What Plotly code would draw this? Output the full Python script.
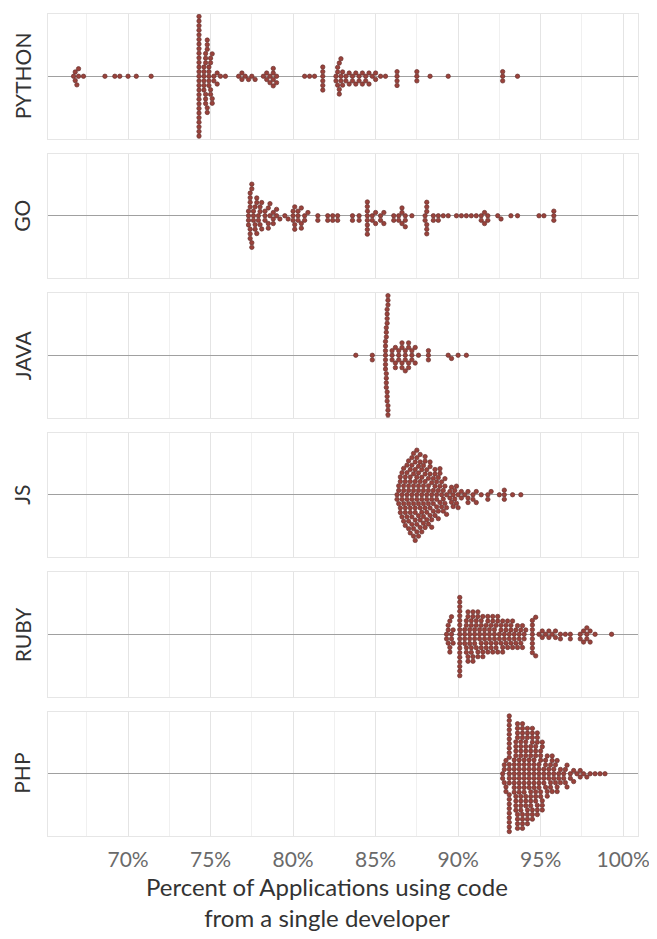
import math
import plotly.graph_objects as go
from plotly.subplots import make_subplots

# ---------------- data (percent value, number of applications at that value) ----------------
languages = ["PYTHON", "GO", "JAVA", "JS", "RUBY", "PHP"]

python_vals = [66.7, 66.8, 66.9, 67.0, 67.3, 68.6, 69.2, 69.5, 70.0, 70.5, 71.4,
               74.3,
               74.6, 74.7, 74.8, 74.9, 75.0, 75.1, 75.2, 75.4, 75.6, 75.9,
               76.7, 76.9, 77.1, 77.3, 77.5, 77.7,
               78.2, 78.4, 78.6, 78.8, 79.0,
               80.7, 81.0, 81.3, 81.8,
               82.6, 82.7, 82.8, 82.9, 83.0, 83.2, 83.4,
               83.6, 83.8, 84.0, 84.2, 84.4, 84.6, 84.8, 85.0, 85.3, 85.6,
               86.3, 87.5, 88.3, 89.4, 92.7, 93.6]
python_counts = [1, 2, 1, 2, 1, 1, 1, 1, 1, 1, 1,
                 28,
                 6, 6, 5, 5, 4, 3, 2, 2, 1, 1,
                 1, 2, 1, 1, 1, 1,
                 1, 2, 2, 4, 2,
                 1, 1, 1, 6,
                 2, 3, 3, 3, 2, 2, 2,
                 2, 2, 2, 2, 2, 2, 1, 2, 1, 1,
                 4, 3, 1, 1, 3, 1]

go_vals = [77.3, 77.4, 77.5, 77.6, 77.7, 77.8, 77.9, 78.0, 78.1,
           78.3, 78.5, 78.6, 78.8, 79.0, 79.2, 79.5, 79.7,
           80.0, 80.1, 80.3, 80.5, 80.7, 80.9,
           81.5, 82.1, 82.4, 82.7, 83.6, 84.0, 84.5,
           84.8, 85.0, 85.3, 85.5, 86.1, 86.4, 86.6, 86.8, 87.2,
           88.0, 88.1, 88.5, 88.8, 89.1, 89.4,
           89.9, 90.2, 90.5, 90.8, 91.1, 91.4, 91.6, 91.8,
           92.4, 92.6, 93.2, 93.6, 94.9, 95.2, 95.8]
go_counts = [4, 7, 4, 3, 3, 3, 2, 3, 2,
             3, 3, 2, 3, 2, 1, 1, 1,
             3, 3, 3, 3, 2, 1,
             2, 2, 2, 2, 2, 2, 8,
             2, 2, 2, 2, 2, 2, 3, 3, 1,
             2, 6, 2, 2, 1, 1,
             1, 1, 1, 1, 1, 2, 2, 2,
             1, 1, 1, 1, 1, 1, 3]

java_vals = [83.8, 84.8, 85.6, 85.65, 85.7, 85.75, 86.0,
             86.2, 86.4, 86.6, 86.8, 87.0, 87.2, 87.4, 87.6,
             88.2, 89.4, 89.6, 90.0, 90.5]
java_counts = [1, 2, 7, 7, 7, 7, 3,
               3, 3, 4, 4, 4, 3, 2, 1,
               3, 1, 1, 1, 1]

js_vals = [86.3, 86.4, 86.5, 86.6, 86.7, 86.8, 86.9,
           87.0, 87.1, 87.2, 87.3, 87.4, 87.5, 87.6, 87.7, 87.8, 87.9, 88.0, 88.1, 88.2, 88.3,
           88.4, 88.5, 88.6, 88.7, 88.8, 88.9, 89.0, 89.1, 89.2, 89.3,
           89.5, 89.6, 89.7, 89.8, 89.9, 90.0,
           90.2, 90.4, 90.6, 90.9, 91.1, 91.4, 91.8, 92.0, 92.5, 92.8, 93.3, 93.8]
js_counts = [2, 3, 4, 4, 5, 5, 5,
             6, 6, 6, 7, 7, 7, 7, 6, 6, 6, 6, 5, 5, 5,
             5, 4, 4, 4, 4, 4, 3, 3, 3, 3,
             2, 2, 2, 2, 2, 2,
             2, 1, 3, 2, 2, 1, 2, 1, 1, 3, 1, 1]

ruby_vals = [89.3, 89.4, 89.5, 89.6, 89.7, 90.1,
             90.4, 90.5, 90.6, 90.7, 90.8, 90.9, 91.0, 91.1, 91.2, 91.3, 91.4, 91.5,
             91.6, 91.7, 91.8, 91.9, 92.0, 92.1, 92.2, 92.3, 92.4, 92.5, 92.6, 92.7,
             92.8, 92.9, 93.0, 93.1, 93.2, 93.3, 93.4, 93.5, 93.6, 93.7, 93.8, 93.9,
             94.0, 94.1, 94.5, 94.7, 94.9, 95.1, 95.3, 95.5, 95.7, 95.9, 96.2, 96.5,
             96.8, 97.4, 97.6, 97.8, 98.0, 98.3, 99.3]
ruby_counts = [2, 3, 3, 3, 2, 18,
               4, 4, 4, 4, 4, 4, 4, 3, 4, 3, 4, 3,
               3, 3, 3, 3, 3, 3, 3, 3, 3, 2, 3, 3,
               2, 3, 2, 2, 3, 2, 2, 2, 2, 2, 2, 2,
               2, 1, 8, 2, 1, 2, 1, 2, 1, 2, 2, 1,
               2, 2, 2, 3, 2, 1, 1]

php_vals = [92.7, 92.8, 92.9, 93.1,
            93.4, 93.5, 93.6, 93.7, 93.8, 93.9, 94.0, 94.1, 94.2,
            94.3, 94.4, 94.5, 94.6, 94.7, 94.8, 94.9, 95.0, 95.1, 95.2,
            95.3, 95.4, 95.5, 95.6, 95.7, 95.8, 95.9, 96.0, 96.1, 96.2,
            96.4, 96.5, 96.6, 96.8, 97.0, 97.2, 97.4,
            97.6, 97.8, 98.0, 98.3, 98.6, 98.9]
php_counts = [2, 3, 3, 24,
              8, 8, 8, 8, 8, 8, 8, 7, 7,
              7, 7, 7, 7, 6, 6, 6, 5, 5, 4,
              3, 3, 3, 3, 3, 3, 2, 3, 2, 2,
              2, 2, 2, 2, 2, 1, 2,
              1, 1, 1, 1, 1, 1]

tick_vals = [70, 75, 80, 85, 90, 95, 100]
tick_text = ["70%", "75%", "80%", "85%", "90%", "95%", "100%"]
minor_vals = [67.5, 72.5, 77.5, 82.5, 87.5, 92.5, 97.5]
axis_title = "Percent of Applications using code<br>from a single developer"

series = [(python_vals, python_counts), (go_vals, go_counts), (java_vals, java_counts),
          (js_vals, js_counts), (ruby_vals, ruby_counts), (php_vals, php_counts)]

# ---------------- layout geometry ----------------
# the page body has an 8px margin, so the figure is 8px smaller and shifted
OFF = 8
W, H = 657 - OFF, 939 - OFF
ML, MR, MT, MB = 48 - OFF, 19, 14 - OFF, 103
X_RANGE = [65.15, 100.9]
plot_w = W - ML - MR
plot_h = H - MT - MB
gap = 15
panel_h = (plot_h - 5 * gap) / 6
px_per_unit = plot_w / (X_RANGE[1] - X_RANGE[0])
D = 4.6  # dot spacing in pixels


def swarm(values):
    """Beeswarm layout (ascending priority): y offsets in pixels."""
    xs = sorted(values)
    placed = []
    ys = []
    for v in xs:
        xp = v * px_per_unit
        near = [(xp - px, py) for px, py in placed if abs(xp - px) < D]
        cands = [0.0]
        for dx, py in near:
            dy = math.sqrt(max(D * D - dx * dx, 0.0))
            cands.append(py + dy)
            cands.append(py - dy)
        cands.sort(key=lambda c: (round(abs(c), 6), c))
        chosen = None
        for c in cands:
            ok = True
            for dx, py in near:
                if dx * dx + (c - py) ** 2 < D * D - 1e-6:
                    ok = False
                    break
            if ok:
                chosen = c
                break
        placed.append((xp, chosen))
        ys.append(chosen)
    return xs, ys


fig = make_subplots(rows=6, cols=1, shared_xaxes=True,
                    vertical_spacing=gap / plot_h)

FONT = "Lato, 'Open Sans', sans-serif"

for i, (lang, (vals, counts)) in enumerate(zip(languages, series)):
    values = []
    for v, c in zip(vals, counts):
        values.extend([v] * c)
    xs, ys = swarm(values)
    fig.add_trace(go.Scatter(
        x=xs, y=ys, mode="markers", showlegend=False, hoverinfo="x",
        marker=dict(size=4.4, color="#9a423b",
                    line=dict(color="#6a3431", width=0.7)),
    ), row=i + 1, col=1)

    half = panel_h / 2
    fig.update_yaxes(range=[-half, half], showticklabels=False, showgrid=False,
                     zeroline=True, zerolinecolor="#a0a0a0", zerolinewidth=1,
                     showline=True, mirror=True, linecolor="#e6e6e6", linewidth=1,
                     fixedrange=True, row=i + 1, col=1)
    fig.update_xaxes(range=X_RANGE, tickvals=tick_vals, ticktext=tick_text,
                     showgrid=True, gridcolor="#e4e4e4", gridwidth=1,
                     minor=dict(tickvals=minor_vals, showgrid=True,
                                gridcolor="#f0f0f0", gridwidth=1),
                     zeroline=False, showline=True, mirror=True,
                     linecolor="#e6e6e6", linewidth=1, ticks="",
                     tickfont=dict(family=FONT, size=21, color="#6a6a6a"),
                     ticklabelstandoff=5,
                     row=i + 1, col=1)

    # facet label on the left, rotated
    dom_top = MT + i * (panel_h + gap)
    yc = 1 - (dom_top + panel_h / 2 - MT) / plot_h
    fig.add_annotation(text=lang, xref="paper", yref="paper",
                       x=(22 - OFF - ML) / plot_w, y=yc, textangle=-90,
                       showarrow=False, xanchor="center", yanchor="middle",
                       font=dict(family=FONT, size=21, color="#333333"))

fig.add_annotation(text=axis_title, xref="paper", yref="paper",
                   x=(327 - OFF - ML) / plot_w, y=-(902 - OFF - (H - MB)) / plot_h,
                   showarrow=False, xanchor="center", yanchor="middle",
                   font=dict(family=FONT, size=24, color="#333333"))

fig.update_layout(width=W, height=H, margin=dict(l=ML, r=MR, t=MT, b=MB),
                  plot_bgcolor="white", paper_bgcolor="white",
                  font=dict(family=FONT))

fig.write_html("out.html")
